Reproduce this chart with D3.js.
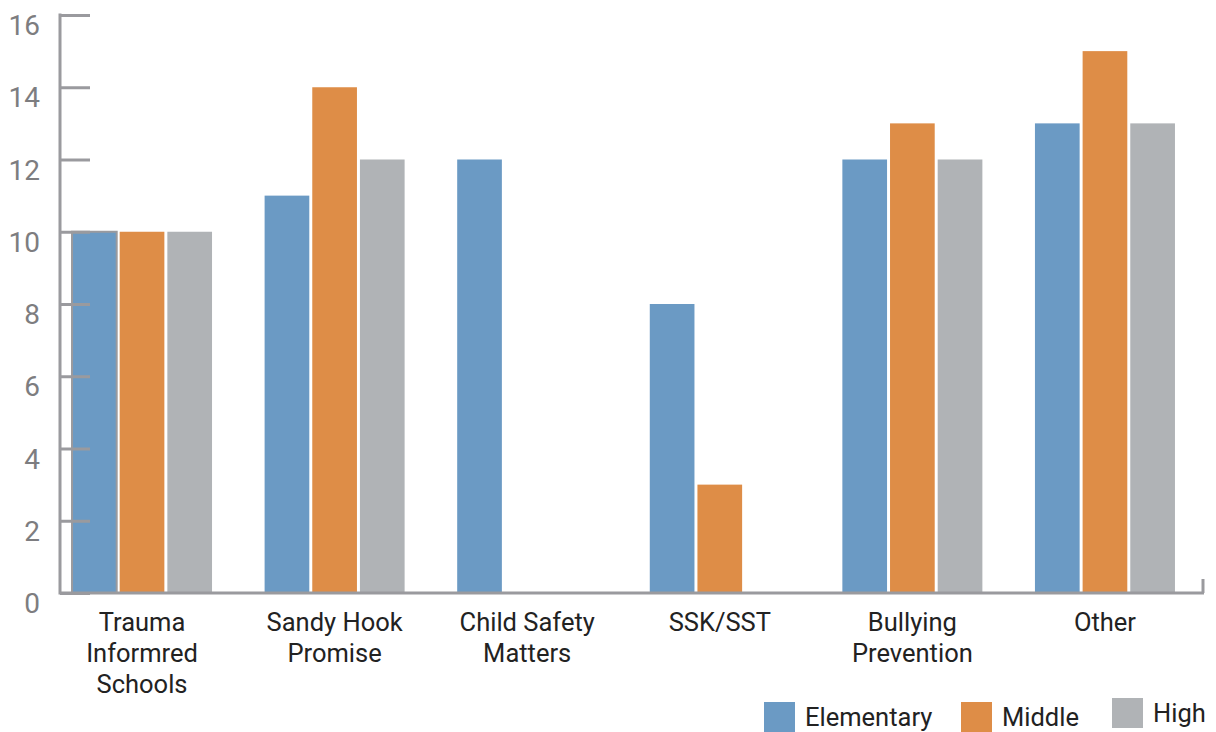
<!DOCTYPE html>
<html>
<head>
<meta charset="utf-8">
<script src="https://cdn.jsdelivr.net/npm/d3@7"></script>
<style>
    body { margin: 0; background: #fff; }
    text { font-family: Roboto, "Noto Sans", sans-serif; }
</style>
</head>
<body>
<svg id="svg1" width="1216" height="732"></svg>
<script>
"use strict";

// chart data
let categories = [["Trauma", "Informred", "Schools"], ["Sandy Hook", "Promise"], ["Child Safety", "Matters"], ["SSK/SST"], ["Bullying", "Prevention"], ["Other"]];
let seriesNames = ["Elementary", "Middle", "High"];
let elementary = [10, 11, 12, 8, 12, 13];
let middle = [10, 14, 0, 3, 13, 15];
let high = [10, 12, 0, 0, 12, 13];
let yTicks = [0, 2, 4, 6, 8, 10, 12, 14, 16];

let colours = ["#6b9ac4", "#de8d47", "#b0b3b6"];
let axisColour = "#9a9a9e";

let svg = d3.select("#svg1");
let plotLeft = 60, plotRight = 1203, plotTop = 15, plotBottom = 593;

let keys = categories.map(c => c.join(" "));
let x = d3.scaleBand().domain(keys).range([plotLeft, plotRight]).paddingInner(0.273).paddingOuter(0.104).align(0.3);
let xSub = d3.scaleBand().domain(seriesNames).range([0, x.bandwidth()]).paddingInner(0.0625);
let y = d3.scaleLinear().domain([0, 16]).range([plotBottom, plotTop]);

let rows = keys.map((k, i) => ({key: k, values: [elementary[i], middle[i], high[i]]}));

// bars
let groups = svg.append("g").selectAll("g").data(rows).enter().append("g")
    .attr("transform", d => `translate(${x(d.key)},0)`);
groups.selectAll("rect").data((d, i) => d.values.map((v, j) => ({v: v, j: j, i: i}))).enter().append("rect")
    .attr("x", d => xSub(seriesNames[d.j]))
    .attr("y", d => y(d.v))
    .attr("width", xSub.bandwidth())
    .attr("height", d => plotBottom - y(d.v))
    .attr("fill", d => colours[d.j])
    .attr("stroke", d => (d.i === 0 && d.j === 0) ? axisColour : "none")
    .attr("stroke-width", 2);

// y axis
let yAxis = svg.append("g").attr("transform", `translate(${plotLeft},0)`)
    .call(d3.axisRight(y).tickValues(yTicks).tickSize(30).tickFormat(""));
yAxis.select(".domain").remove();
yAxis.selectAll(".tick line").attr("stroke", axisColour).attr("stroke-width", 3);
svg.append("line").attr("x1", plotLeft).attr("x2", plotLeft).attr("y1", plotTop - 1.5).attr("y2", plotBottom + 1.5)
    .attr("stroke", axisColour).attr("stroke-width", 3);
svg.append("g").selectAll("text").data(yTicks).enter().append("text")
    .attr("x", 40).attr("y", d => y(d) + 20)
    .attr("text-anchor", "end").attr("fill", "#7d7d80").style("font-size", "28px")
    .text(d => d);

// x axis
svg.append("line").attr("x1", plotLeft).attr("x2", plotRight + 1).attr("y1", plotBottom).attr("y2", plotBottom)
    .attr("stroke", axisColour).attr("stroke-width", 3);
svg.append("line").attr("x1", plotRight).attr("x2", plotRight).attr("y1", plotBottom).attr("y2", plotBottom - 14)
    .attr("stroke", axisColour).attr("stroke-width", 3);

// category labels, one tspan per line
let labels = svg.append("g").selectAll("text").data(categories).enter().append("text")
    .attr("text-anchor", "middle").attr("fill", "#222").style("font-size", "25.5px")
    .attr("transform", (d, i) => `translate(${x(keys[i]) + x.bandwidth() / 2},0)`);
labels.selectAll("tspan").data(d => d).enter().append("tspan")
    .attr("x", 0).attr("y", (d, i) => 631 + i * 31)
    .text(d => d);

// legend
let legendX = [764, 961, 1112];
let legendY = [702, 702, 698];
let legend = svg.append("g").selectAll("g").data(seriesNames).enter().append("g")
    .attr("transform", (d, i) => `translate(${legendX[i]},${legendY[i]})`);
legend.append("rect").attr("width", 31).attr("height", 30).attr("fill", (d, i) => colours[i]);
legend.append("text").attr("x", 41).attr("y", 24).attr("fill", "#222").style("font-size", "25.5px").text(d => d);
</script>
</body>
</html>
